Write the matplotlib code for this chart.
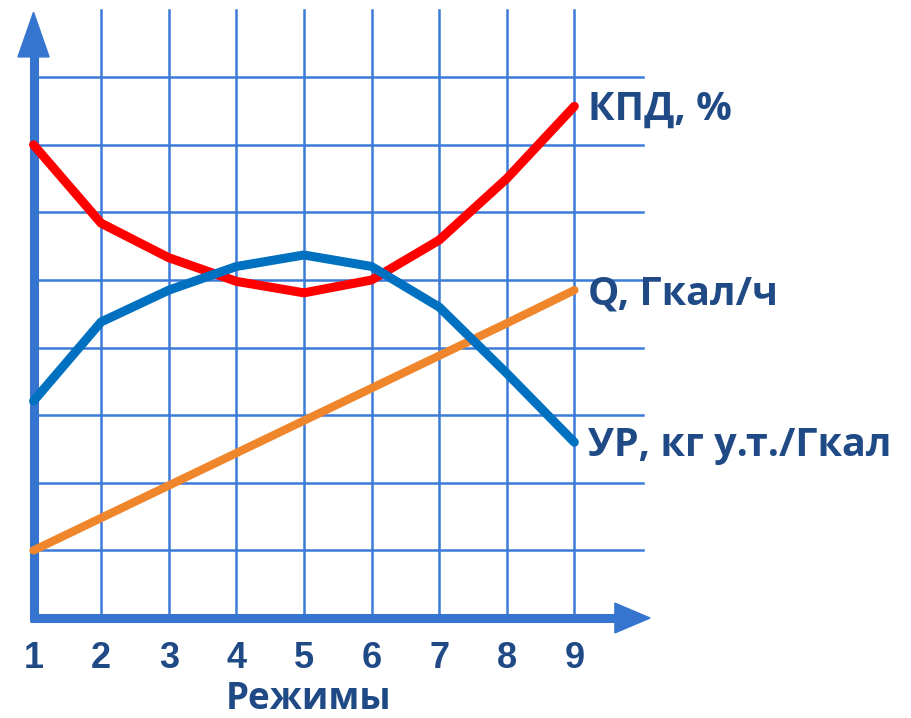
import matplotlib
matplotlib.use("Agg")
from matplotlib import pyplot as plt
from matplotlib.patches import Polygon

# Operating modes and the three curves
modes = [1, 2, 3, 4, 5, 6, 7, 8, 9]
kpd = [7.0, 5.84, 5.33, 4.98, 4.81, 5.0, 5.59, 6.5, 7.57]
q_heat = [1.0, 1.48, 1.96, 2.44, 2.92, 3.40, 3.88, 4.36, 4.85]
ur = [3.21, 4.38, 4.85, 5.2, 5.37, 5.2, 4.6, 3.62, 2.6]

series_labels = ["КПД, %", "Q, Гкал/ч", "УР, кг у.т./Гкал"]
x_title = "Режимы"

grid_color = "#3d7bd9"
axis_color = "#3575d0"
text_color = "#1f4a85"
font = "Liberation Sans"
label_font = "Open Sans"

fig = plt.figure(figsize=(9.11, 7.18), dpi=100)
ax = fig.add_axes([0, 0, 1, 1])
ax.set_xlim(0.504, 13.98)
ax.set_ylim(-1.479, 9.142)
ax.axis("off")

# Grid: vertical lines up to the top, horizontal lines past the last mode
for x in modes[1:]:
    ax.plot([x, x], [0, 8.99], color=grid_color, lw=1.8, zorder=1)
for y in range(1, 9):
    ax.plot([1, 10.02], [y, y], color=grid_color, lw=1.8, zorder=1)

# Axes with arrow heads
ax.plot([1, 1], [-0.05, 8.35], color=axis_color, lw=6.5, solid_capstyle="butt", zorder=2)
ax.plot([0.95, 9.65], [0, 0], color=axis_color, lw=6.5, solid_capstyle="butt", zorder=2)
ax.add_patch(Polygon([[0.77, 8.30], [1.23, 8.30], [1.0, 8.96]], closed=True,
                     color=axis_color, zorder=2))
ax.add_patch(Polygon([[9.6, 0.22], [9.6, -0.22], [10.12, 0]], closed=True,
                     color=axis_color, zorder=2))

# Curves
ax.plot(modes, q_heat, color="#f0862c", lw=6, solid_capstyle="round", zorder=3)
ax.plot(modes, kpd, color="#ff0000", lw=6.5, solid_capstyle="round",
        solid_joinstyle="round", zorder=4)
ax.plot(modes, ur, color="#0070c0", lw=6.5, solid_capstyle="round",
        solid_joinstyle="round", zorder=4)

# Curve labels at the right end of each line
for values, label in zip([kpd, q_heat, ur], series_labels):
    ax.annotate(label, xy=(modes[-1], values[-1]), xytext=(10, -10),
                textcoords="offset points", va="baseline", ha="left",
                fontsize=28.5, fontweight="bold", family=label_font, color=text_color)

# Mode numbers under the x axis
for x in modes:
    ax.text(x, -0.74, str(x), ha="center", va="baseline", fontsize=26,
            fontweight="bold", family=font, color=text_color)

ax.text(5.07, -1.35, x_title, ha="center", va="baseline", fontsize=26.5,
        fontweight="bold", family=label_font, color=text_color)

fig.savefig("out.png", dpi=100, facecolor="white")
